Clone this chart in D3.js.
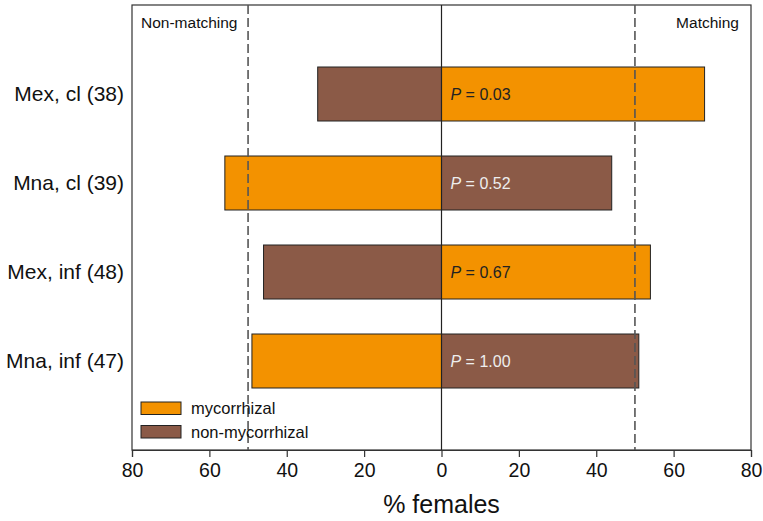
<!DOCTYPE html>
<html><head><meta charset="utf-8">
<script src="https://cdn.jsdelivr.net/npm/d3@7"></script>
<style>body{margin:0;background:#fff}svg{display:block}text{font-family:Arial,"Liberation Sans",sans-serif}</style>
</head><body><svg id="c" width="763" height="521"></svg>
<script>
const categories = ["Mex, cl (38)", "Mna, cl (39)", "Mex, inf (48)", "Mna, inf (47)"];
const leftValues = [32, 56, 46, 49];      // non-matching %
const rightValues = [68, 44, 54, 51];     // matching %
const leftType = ["non-mycorrhizal", "mycorrhizal", "non-mycorrhizal", "mycorrhizal"];
const rightType = ["mycorrhizal", "non-mycorrhizal", "mycorrhizal", "non-mycorrhizal"];
const pValues = ["0.03", "0.52", "0.67", "1.00"];
const xTicks = [-80, -60, -40, -20, 0, 20, 40, 60, 80];
const refLines = [-50, 50];
const seriesNames = ["mycorrhizal", "non-mycorrhizal"];

const colors = {"mycorrhizal": "#F39200", "non-mycorrhizal": "#8B5A47"};
const svg = d3.select("#c");
const L = 132, R = 751, T = 5, B = 450;
const x = d3.scaleLinear().domain([-80, 80]).range([L, R]);
const y = d3.scaleLinear().domain([0, 5]).range([T, B]);
const bh = 54;

// frame
svg.append("rect").attr("x", L).attr("y", T).attr("width", R - L).attr("height", B - T)
  .attr("fill", "none").attr("stroke", "#333").attr("stroke-width", 1.2);

// bars
categories.forEach((c, i) => {
  const cy = y(i + 1);
  svg.append("rect").attr("x", x(-leftValues[i])).attr("y", cy - bh / 2)
    .attr("width", x(0) - x(-leftValues[i])).attr("height", bh)
    .attr("fill", colors[leftType[i]]).attr("stroke", "#222").attr("stroke-width", 1);
  svg.append("rect").attr("x", x(0)).attr("y", cy - bh / 2)
    .attr("width", x(rightValues[i]) - x(0)).attr("height", bh)
    .attr("fill", colors[rightType[i]]).attr("stroke", "#222").attr("stroke-width", 1);
  const t = svg.append("text").attr("x", x(0) + 9).attr("y", cy + 6)
    .attr("font-size", 16).attr("fill", rightType[i] === "mycorrhizal" ? "#222" : "#eee");
  t.append("tspan").attr("font-style", "italic").text("P");
  t.append("tspan").text(" = " + pValues[i]);
  svg.append("text").attr("x", 124).attr("y", cy + 7).attr("text-anchor", "end")
    .attr("font-size", 21).attr("fill", "#111").text(c);
});

// zero line
svg.append("line").attr("x1", x(0)).attr("x2", x(0)).attr("y1", T).attr("y2", B)
  .attr("stroke", "#222").attr("stroke-width", 1.2);

// reference dashed lines
refLines.forEach(v => {
  svg.append("line").attr("x1", x(v)).attr("x2", x(v)).attr("y1", T).attr("y2", B)
    .attr("stroke", "#555").attr("stroke-width", 1.6).attr("stroke-dasharray", "9,4");
});

// x axis
const ax = svg.append("g").attr("transform", `translate(0,${B})`)
  .call(d3.axisBottom(x).tickValues(xTicks).tickFormat(d => Math.abs(d)).tickSize(7).tickPadding(6));
ax.select(".domain").attr("stroke", "#333").attr("stroke-width", 1.2);
ax.selectAll(".tick line").attr("stroke", "#333").attr("stroke-width", 1.2);
ax.selectAll("text").attr("font-size", 19.5).attr("fill", "#111").attr("font-family", "Arial, 'Liberation Sans', sans-serif");

svg.append("text").attr("x", x(0)).attr("y", 513).attr("text-anchor", "middle")
  .attr("font-size", 25).attr("fill", "#111").text("% females");

svg.append("text").attr("x", 141).attr("y", 28).attr("font-size", 15.5).attr("fill", "#111").text("Non-matching");
svg.append("text").attr("x", 739).attr("y", 28).attr("text-anchor", "end").attr("font-size", 15.5).attr("fill", "#111").text("Matching");

// legend
seriesNames.forEach((s, i) => {
  const ly = 402 + i * 23.5;
  svg.append("rect").attr("x", 141).attr("y", ly).attr("width", 40).attr("height", 12.5)
    .attr("fill", colors[s]).attr("stroke", "#222").attr("stroke-width", 1);
  svg.append("text").attr("x", 191).attr("y", ly + 12).attr("font-size", 16.5).attr("fill", "#111").text(s);
});
</script></body></html>
